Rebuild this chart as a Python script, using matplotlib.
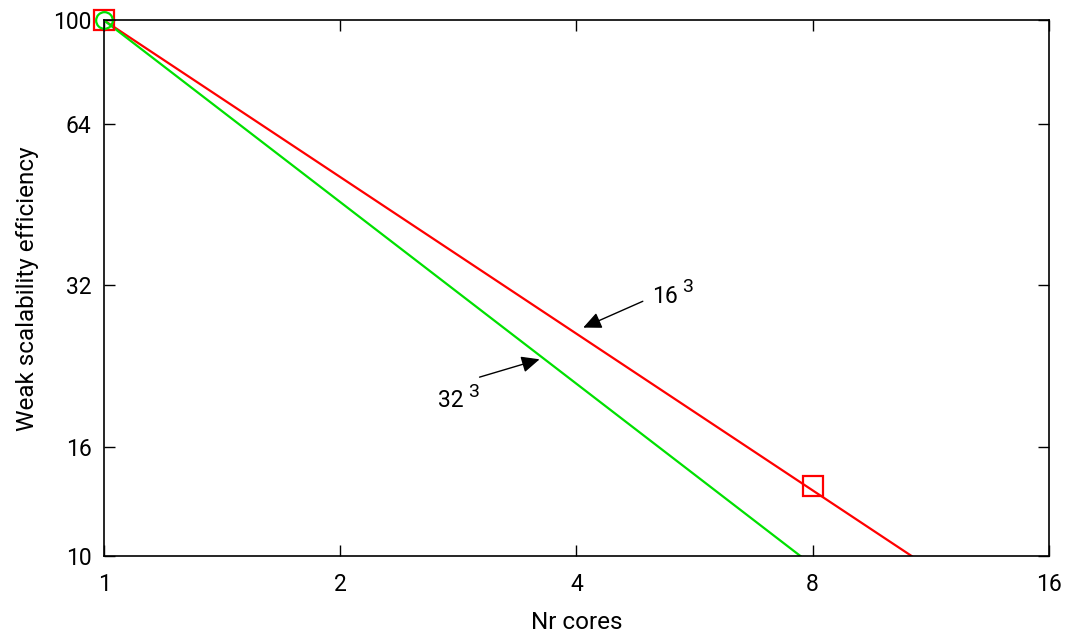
import matplotlib
matplotlib.use("Agg")
import matplotlib.pyplot as plt

plt.rcParams['font.family'] = ['Roboto', 'DejaVu Sans']

# measured points
cores_16 = [1, 8]
eff_16 = [100, 13.5]
cores_32 = [1]
eff_32 = [100]

# fitted lines as drawn (end points)
fit16_x = [1, 10.7]
fit16_y = [100, 10]
fit32_x = [1, 7.72]
fit32_y = [100, 10]

xticks = [1, 2, 4, 8, 16]
yticks = [10, 16, 32, 64, 100]

fig = plt.figure(figsize=(10.67, 6.37), dpi=100)
ax = fig.add_axes([0.0975, 0.127, 0.8855, 0.841])

ax.plot(fit16_x, fit16_y, color='#ff0000', lw=1.6)
ax.plot(fit32_x, fit32_y, color='#00e000', lw=1.6)
ax.plot(cores_16, eff_16, ls='none', marker='s', ms=14, mfc='none',
        mec='#ff0000', mew=1.6, clip_on=False)
ax.plot(cores_32, eff_32, ls='none', marker='o', ms=12, mfc='none',
        mec='#00e000', mew=1.6, clip_on=False)

ax.set_xscale('log', base=2)
ax.set_yscale('log')
ax.set_xlim(1, 16)
ax.set_ylim(10, 100)
ax.set_xticks(xticks)
ax.set_xticklabels([str(v) for v in xticks])
ax.set_yticks(yticks)
ax.set_yticklabels([str(v) for v in yticks])
ax.minorticks_off()
ax.tick_params(direction='in', length=8, width=1, labelsize=16.5,
               top=True, right=True)
ax.tick_params(axis='x', pad=12)
ax.tick_params(axis='y', pad=9)
for s in ax.spines.values():
    s.set_linewidth(1.2)

ax.set_xlabel('Nr cores', fontsize=17.5, labelpad=11)
ax.set_ylabel('Weak scalability efficiency', fontsize=17.5, labelpad=10)

arrow = dict(arrowstyle='-|>,head_length=1.1,head_width=0.5',
             color='black', lw=1, shrinkA=0, shrinkB=0)
ax.annotate('', xy=(4.08, 26.7), xytext=(4.86, 29.9), arrowprops=arrow)
ax.text(4.99, 29.65, '16', fontsize=16.5, va='baseline', ha='left')
ax.annotate('3', xy=(4.99, 29.65), xytext=(30, 11), textcoords='offset pixels',
            fontsize=14, va='baseline', ha='left')
ax.annotate('', xy=(3.59, 23.3), xytext=(3.01, 21.58), arrowprops=arrow)
ax.text(2.667, 18.97, '32', fontsize=16.5, va='baseline', ha='left')
ax.annotate('3', xy=(2.667, 18.97), xytext=(30, 10), textcoords='offset pixels',
            fontsize=14, va='baseline', ha='left')

fig.savefig('out.png', dpi=100)
